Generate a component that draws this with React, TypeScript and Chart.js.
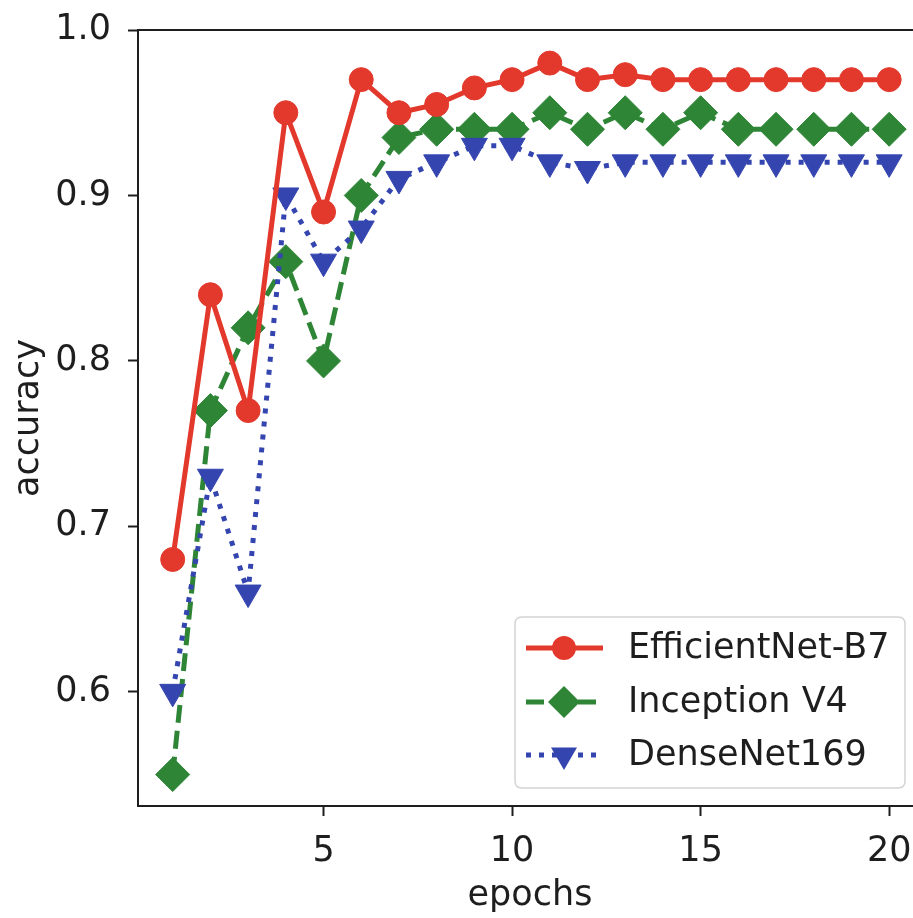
import React, { useEffect, useRef } from "react";
import { Chart, registerables } from "chart.js";

Chart.register(...registerables);

const epochs = [1, 2, 3, 4, 5, 6, 7, 8, 9, 10, 11, 12, 13, 14, 15, 16, 17, 18, 19, 20];
const efficientNetB7 = [0.68, 0.84, 0.77, 0.95, 0.89, 0.97, 0.95, 0.955, 0.965, 0.97, 0.98, 0.97, 0.973, 0.97, 0.97, 0.97, 0.97, 0.97, 0.97, 0.97];
const inceptionV4 = [0.55, 0.77, 0.82, 0.86, 0.8, 0.9, 0.935, 0.94, 0.94, 0.94, 0.95, 0.94, 0.95, 0.94, 0.95, 0.94, 0.94, 0.94, 0.94, 0.94];
const denseNet169 = [0.6, 0.73, 0.66, 0.9, 0.86, 0.88, 0.91, 0.92, 0.93, 0.93, 0.92, 0.916, 0.92, 0.92, 0.92, 0.92, 0.92, 0.92, 0.92, 0.92];
const seriesNames = ["EfficientNet-B7", "Inception V4", "DenseNet169"];
const xTickValues = [5, 10, 15, 20];
const yTickValues = [0.6, 0.7, 0.8, 0.9, 1.0];
const xTitle = "epochs";
const yTitle = "accuracy";

const RED = "#e3392c";
const GREEN = "#2e8536";
const BLUE = "#3445b0";
const FONT = "'DejaVu Sans', 'Liberation Sans', sans-serif";
const INK = "#1e1e1e";

function drawMarker(ctx: CanvasRenderingContext2D, kind: string, x: number, y: number, r: number, color: string) {
  ctx.save();
  ctx.fillStyle = color;
  ctx.beginPath();
  if (kind === "circle") {
    ctx.arc(x, y, r, 0, Math.PI * 2);
  } else if (kind === "diamond") {
    ctx.moveTo(x, y - r);
    ctx.lineTo(x + r, y);
    ctx.lineTo(x, y + r);
    ctx.lineTo(x - r, y);
    ctx.closePath();
  } else {
    const s = Math.sin(Math.PI / 3) * r;
    ctx.moveTo(x, y + r);
    ctx.lineTo(x - s, y - r / 2);
    ctx.lineTo(x + s, y - r / 2);
    ctx.closePath();
  }
  ctx.fill();
  ctx.restore();
}

const decorPlugin = {
  id: "decor",
  afterDraw(chart: any) {
    const ctx: CanvasRenderingContext2D = chart.ctx;
    const a = chart.chartArea;
    ctx.save();
    // top spine
    ctx.strokeStyle = INK;
    ctx.lineWidth = 2;
    ctx.beginPath();
    ctx.moveTo(a.left - 1, a.top);
    ctx.lineTo(a.right, a.top);
    ctx.stroke();

    // axis titles
    ctx.fillStyle = INK;
    ctx.font = `35px ${FONT}`;
    ctx.textAlign = "center";
    ctx.textBaseline = "alphabetic";
    ctx.fillText(xTitle, 530, 905);
    ctx.save();
    ctx.translate(38, (a.top + a.bottom) / 2);
    ctx.rotate(-Math.PI / 2);
    ctx.fillText(yTitle, 0, 0);
    ctx.restore();

    // legend
    const bx = 515, by = 617, bw = 390, bh = 171, rad = 7;
    ctx.beginPath();
    ctx.moveTo(bx + rad, by);
    ctx.lineTo(bx + bw - rad, by);
    ctx.quadraticCurveTo(bx + bw, by, bx + bw, by + rad);
    ctx.lineTo(bx + bw, by + bh - rad);
    ctx.quadraticCurveTo(bx + bw, by + bh, bx + bw - rad, by + bh);
    ctx.lineTo(bx + rad, by + bh);
    ctx.quadraticCurveTo(bx, by + bh, bx, by + bh - rad);
    ctx.lineTo(bx, by + rad);
    ctx.quadraticCurveTo(bx, by, bx + rad, by);
    ctx.closePath();
    ctx.fillStyle = "rgba(255,255,255,0.8)";
    ctx.fill();
    ctx.strokeStyle = "#d4d4d4";
    ctx.lineWidth = 1.5;
    ctx.stroke();

    const rows = [
      { y: 648, color: RED, dash: [] as number[], marker: "circle", r: 12 },
      { y: 702, color: GREEN, dash: [18, 8], marker: "diamond", r: 16 },
      { y: 755, color: BLUE, dash: [5, 8], marker: "triangle", r: 15 },
    ];
    rows.forEach((row, i) => {
      ctx.save();
      ctx.strokeStyle = row.color;
      ctx.lineWidth = 5;
      ctx.setLineDash(row.dash);
      ctx.beginPath();
      ctx.moveTo(526, row.y);
      ctx.lineTo(603, row.y);
      ctx.stroke();
      ctx.restore();
      drawMarker(ctx, row.marker, 564, row.y, row.r, row.color);
      ctx.fillStyle = INK;
      ctx.font = `35px ${FONT}`;
      ctx.textAlign = "left";
      ctx.textBaseline = "middle";
      ctx.fillText(seriesNames[i], 628, row.y + 1);
    });
    ctx.restore();
  },
};

export default function App() {
  const ref = useRef<HTMLCanvasElement | null>(null);

  useEffect(() => {
    if (!ref.current) return;
    const pts = (vals: number[]) => epochs.map((e, i) => ({ x: e, y: vals[i] }));
    const chart = new Chart(ref.current, {
      type: "line",
      data: {
        datasets: [
          {
            label: seriesNames[0],
            data: pts(efficientNetB7),
            borderColor: RED,
            backgroundColor: RED,
            borderWidth: 5,
            pointStyle: "circle",
            pointRadius: 12,
            pointBorderWidth: 1,
            pointBorderColor: RED,
            pointBackgroundColor: RED,
            order: 0,
          },
          {
            label: seriesNames[1],
            data: pts(inceptionV4),
            borderColor: GREEN,
            backgroundColor: GREEN,
            borderWidth: 5,
            borderDash: [18, 8],
            pointStyle: "rectRot",
            pointRadius: 17,
            pointBorderWidth: 1,
            pointBorderColor: GREEN,
            pointBackgroundColor: GREEN,
            order: 2,
          },
          {
            label: seriesNames[2],
            data: pts(denseNet169),
            borderColor: BLUE,
            backgroundColor: BLUE,
            borderWidth: 5,
            borderDash: [5, 8],
            pointStyle: "triangle",
            pointRotation: 180,
            pointRadius: 15,
            pointBorderWidth: 1,
            pointBorderColor: BLUE,
            pointBackgroundColor: BLUE,
            order: 1,
          },
        ],
      },
      options: {
        animation: false,
        responsive: true,
        maintainAspectRatio: false,
        layout: { padding: { top: 30, left: 0, right: 0, bottom: 0 } },
        plugins: { legend: { display: false }, tooltip: { enabled: false } },
        scales: {
          x: {
            type: "linear",
            min: 0.08,
            max: 20.95,
            afterBuildTicks: (s: any) => {
              s.ticks = xTickValues.map((v) => ({ value: v }));
            },
            afterFit: (s: any) => {
              s.height = 112;
              s.paddingLeft = 0;
              s.paddingRight = 0;
              s.paddingTop = 0;
              s.paddingBottom = 0;
            },
            grid: { display: true, drawOnChartArea: false, drawTicks: true, tickLength: 10, tickWidth: 2, tickColor: INK },
            border: { display: true, color: INK, width: 2 },
            ticks: {
              font: { family: FONT, size: 35 },
              color: INK,
              padding: 15,
              maxRotation: 0,
              autoSkip: false,
              callback: (v: any) => String(v),
            },
          },
          y: {
            type: "linear",
            min: 0.531,
            max: 1.0,
            afterBuildTicks: (s: any) => {
              s.ticks = yTickValues.map((v) => ({ value: v }));
            },
            afterFit: (s: any) => {
              s.width = 138;
              s.paddingLeft = 0;
              s.paddingRight = 0;
              s.paddingTop = 0;
              s.paddingBottom = 0;
            },
            grid: { display: true, drawOnChartArea: false, drawTicks: true, tickLength: 10, tickWidth: 2, tickColor: INK },
            border: { display: true, color: INK, width: 2 },
            ticks: {
              font: { family: FONT, size: 35 },
              color: INK,
              padding: 17,
              autoSkip: false,
              callback: (v: any) => Number(v).toFixed(1),
            },
          },
        },
      },
      plugins: [decorPlugin],
    });
    return () => chart.destroy();
  }, []);

  return (
    <div style={{ position: "fixed", left: 0, top: 0, width: 913, height: 918, overflow: "hidden", background: "#fff" }}>
      <div style={{ position: "relative", width: 943, height: 918 }}>
        <canvas ref={ref} />
      </div>
    </div>
  );
}
